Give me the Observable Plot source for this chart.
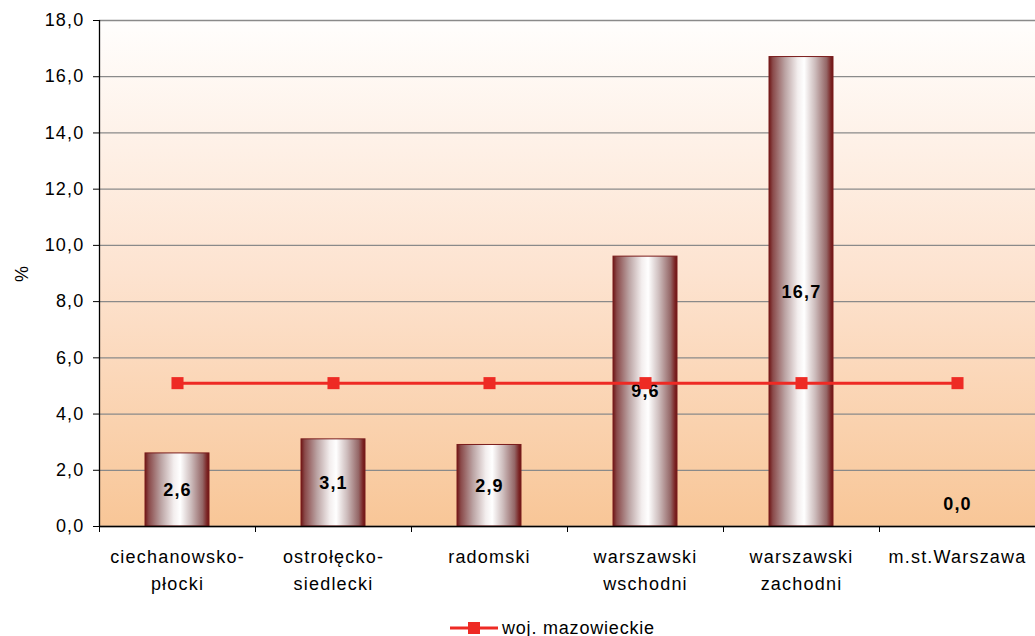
<!DOCTYPE html>
<html><head><meta charset="utf-8">
<script src="https://cdn.jsdelivr.net/npm/d3@7"></script>
<script src="https://cdn.jsdelivr.net/npm/@observablehq/plot@0.6"></script>
<style>
body{margin:0;background:#fff;font-family:"Liberation Sans",Arial,sans-serif;width:1035px;height:636px;position:relative;overflow:hidden;}
#legend{position:absolute;left:450px;top:618px;height:20px;display:flex;align-items:center;font-size:18px;letter-spacing:0.8px;color:#000;}
#legend svg{margin-right:4px;}
</style></head><body><div id="chart"></div><div id="legend"></div>
<script>
const categories = ["ciechanowsko-\npłocki","ostrołęcko-\nsiedlecki","radomski","warszawski\nwschodni","warszawski\nzachodni","m.st.Warszawa"];
const regionValues = [2.6, 3.1, 2.9, 9.6, 16.7, 0.0];
const voivodeshipValues = [5.1, 5.1, 5.1, 5.1, 5.1, 5.1];
const yTicks = [0, 2, 4, 6, 8, 10, 12, 14, 16, 18];
const seriesName = "woj. mazowieckie";
const yLabel = "%";

const fmt = d => d.toFixed(1).replace(".", ",");
const data = categories.map((c, i) => ({cat: c, value: regionValues[i], avg: voivodeshipValues[i]}));
const red = "#ee2a24";
const FS = 18;

const chart = Plot.plot({
  width: 1035, height: 606,
  marginTop: 20, marginBottom: 80, marginLeft: 99, marginRight: 0,
  style: {fontFamily: '"Liberation Sans", Arial, sans-serif', fontSize: "18px", background: "transparent", letterSpacing: "1.2px", color: "#000"},
  x: {domain: categories, paddingInner: 0.59, paddingOuter: 0.295, align: 0.5},
  y: {domain: [0, 18]},
  marks: [
    Plot.frame({fill: "url(#bgGrad)", stroke: null}),
    Plot.gridY(yTicks, {stroke: "#8a8a8a", strokeOpacity: 1, strokeWidth: 1.3}),
    Plot.barY(data, {x: "cat", y: "value", fill: "url(#barGrad)", stroke: "#7a1c1c", strokeWidth: 1}),
    Plot.text(data, {x: "cat", y: d => Math.max(d.value / 2, 0.8), text: d => fmt(d.value), fontWeight: "bold", fontSize: 18, fill: "#000"}),
    Plot.lineY(data, {x: "cat", y: "avg", stroke: red, strokeWidth: 3}),
    Plot.dot(data, {x: "cat", y: "avg", symbol: "square", fill: red, stroke: null, r: 6.8}),
    Plot.ruleY([0], {stroke: "#000", strokeWidth: 1.3}),
    Plot.ruleX([categories[0]], {y1: 0, y2: 18, dx: -78, stroke: "#000", strokeWidth: 1.3}),
    Plot.axisY({ticks: yTicks, tickFormat: fmt, tickSize: 6, tickPadding: 9, fontSize: FS, label: yLabel, labelAnchor: "center", labelOffset: 84, labelArrow: "none"}),
    Plot.axisX({tickSize: 0, tickPadding: 17, lineHeight: 1.5, fontSize: FS, label: null}),
    Plot.axisX({tickSize: 6, dx: -78, tickFormat: () => "", label: null}),
    Plot.axisX([categories[categories.length - 1]], {tickSize: 6, dx: 78, tickFormat: () => "", label: null})
  ]
});

const defs = d3.select(chart).insert("defs", ":first-child");
const bg = defs.append("linearGradient").attr("id", "bgGrad").attr("x1", 0).attr("y1", 0).attr("x2", 0).attr("y2", 1);
bg.append("stop").attr("offset", 0).attr("stop-color", "#fffefd");
bg.append("stop").attr("offset", 0.5).attr("stop-color", "#fde3d0");
bg.append("stop").attr("offset", 1).attr("stop-color", "#f8c697");
const bar = defs.append("linearGradient").attr("id", "barGrad").attr("x1", 0).attr("y1", 0).attr("x2", 1).attr("y2", 0);
[[0, "#6e1616"], [0.06, "#8a4a4a"], [0.25, "#bba3a3"], [0.45, "#f3eeee"], [0.55, "#ffffff"], [0.72, "#cdbcbc"], [0.9, "#946666"], [0.97, "#7a2222"], [1, "#6e1616"]]
  .forEach(([o, c]) => bar.append("stop").attr("offset", o).attr("stop-color", c));

document.getElementById("chart").appendChild(chart);

const leg = document.getElementById("legend");
leg.innerHTML = `<svg width="48" height="16"><line x1="0" x2="48" y1="8" y2="8" stroke="${red}" stroke-width="3"/><rect x="18" y="2" width="12" height="12" fill="${red}"/></svg><span></span>`;
leg.querySelector("span").textContent = seriesName;
</script>
</body></html>
